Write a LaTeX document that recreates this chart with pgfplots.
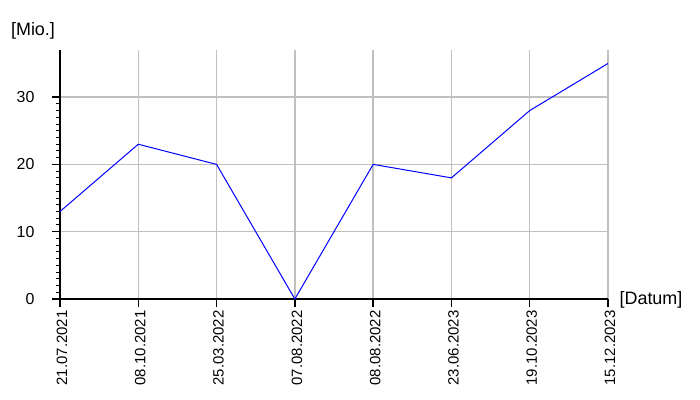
\documentclass[border=0pt]{standalone}
\usepackage{fontspec}
\setmainfont{Liberation Sans}
\usepackage{pgfplots}
\pgfplotsset{compat=1.18}
\definecolor{gridgray}{RGB}{192,192,192}
\definecolor{lineblue}{RGB}{0,0,255}

\begin{document}
\begin{tikzpicture}
  \begin{axis}[
    at={(0,0)}, anchor=origin,
    scale only axis,
    width=548bp, height=249bp,
    xmin=0, xmax=7,
    ymin=0, ymax=37,
    axis x line=bottom,
    axis y line=left,
    axis line style={-, black, line width=2bp},
    xtick=data,
    xticklabels={21.07.2021,08.10.2021,25.03.2022,07.08.2022,08.08.2022,23.06.2023,19.10.2023,15.12.2023},
    ytick={0,10,20,30},
    minor y tick num=9,
    tick align=outside,
    major tick length=8bp,
    minor tick length=4bp,
    every tick/.style={black, line width=1.5bp},
    minor tick style={black, line width=1bp},
    grid=major,
    major grid style={gridgray, line width=1.3bp},
    /pgf/number format/assume math mode=true,
    yticklabel style={font=\fontsize{16}{16}\selectfont, anchor=east, xshift=-14bp},
    xticklabel style={font=\fontsize{15}{15}\selectfont, rotate=90, anchor=east, yshift=-2bp},
    every axis y label/.style={at={(axis description cs:0,1)}, anchor=center,
      xshift=-27bp, yshift=19bp, font=\fontsize{18}{18}\selectfont},
    every axis x label/.style={at={(axis description cs:1,0)}, anchor=center,
      xshift=43bp, yshift=-1bp, font=\fontsize{18}{18}\selectfont},
    ylabel={[Mio.]},
    xlabel={[Datum]},
  ]
    \addplot[lineblue, line width=1bp, mark=none] coordinates {
      (0,13) (1,23) (2,20) (3,0) (4,20) (5,18) (6,28) (7,35)
    };
  \end{axis}
  \pgfresetboundingbox
  \path (-60bp,-101bp) rectangle (640bp,299bp);
\end{tikzpicture}
\end{document}
